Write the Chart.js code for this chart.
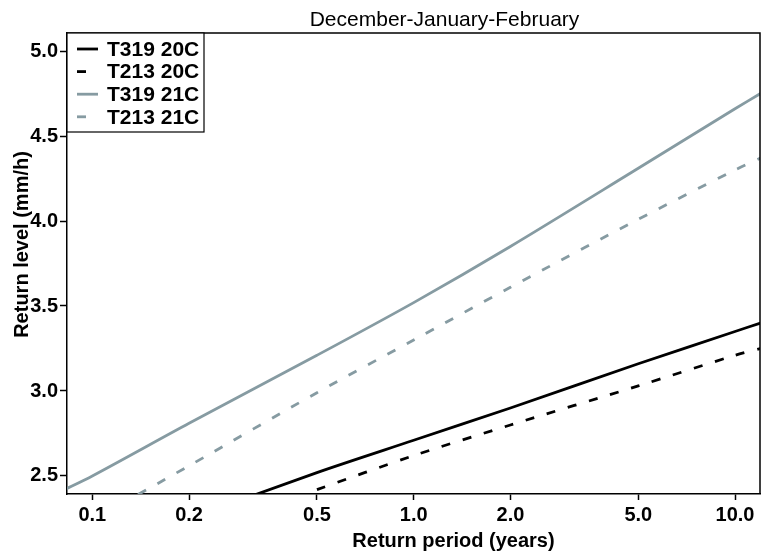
<!DOCTYPE html>
<html>
<head>
<meta charset="utf-8">
<script src="https://cdn.jsdelivr.net/npm/chart.js@4/dist/chart.umd.min.js"></script>
<style>
  html, body { margin: 0; padding: 0; background: #fff; }
  #wrap { width: 761px; height: 553px; }
</style>
</head>
<body>
<div id="wrap"><canvas id="rl-chart" width="761" height="553"></canvas></div>
<script>
const FONT = '"Liberation Sans", Arial, Helvetica, sans-serif';
const GREY = "#869ba2";

// return period (years) and return level (mm/h)
const returnPeriods = [0.08, 0.1, 0.2, 0.5, 1, 2, 5, 10, 12];
const t319_20c = [1.99, 2.06, 2.25, 2.52, 2.71, 2.90, 3.16, 3.35, 3.40];
const t213_20c = [null, null, null, 2.42, 2.62, 2.80, 3.03, 3.21, 3.25];
const t319_21c = [2.41, 2.50, 2.81, 3.21, 3.52, 3.85, 4.31, 4.66, 4.75];
const t213_21c = [2.14, 2.24, 2.56, 2.99, 3.30, 3.61, 4.01, 4.30, 4.37];

const xTicks = [0.1, 0.2, 0.5, 1, 2, 5, 10];
const xTickLabels = ["0.1", "0.2", "0.5", "1.0", "2.0", "5.0", "10.0"];
const yTicks = [2.5, 3.0, 3.5, 4.0, 4.5, 5.0];

function toPoints(values) {
  return returnPeriods.map((p, i) => ({ x: p, y: values[i] }));
}

// white page + top/right frame of the plot box
const frame = {
  id: "frame",
  beforeDraw(chart) {
    const ctx = chart.ctx;
    ctx.save();
    ctx.fillStyle = "#fff";
    ctx.fillRect(0, 0, chart.width, chart.height);
    ctx.restore();
  },
  afterDraw(chart) {
    const ctx = chart.ctx;
    const a = chart.chartArea;
    ctx.save();
    ctx.strokeStyle = "#000";
    ctx.lineWidth = 1.5;
    ctx.beginPath();
    ctx.moveTo(a.left, a.top);
    ctx.lineTo(a.right, a.top);
    ctx.lineTo(a.right, a.bottom);
    ctx.stroke();
    ctx.restore();
  },
};

// legend box drawn inside the top-left corner, R style
const insideLegend = {
  id: "insideLegend",
  afterDraw(chart) {
    const ctx = chart.ctx;
    const a = chart.chartArea;
    const x0 = a.left, y0 = a.top, w = 137, h = 99;
    ctx.save();
    ctx.fillStyle = "#fff";
    ctx.fillRect(x0, y0, w, h);
    ctx.strokeStyle = "#000";
    ctx.lineWidth = 1.2;
    ctx.strokeRect(x0, y0, w, h);
    chart.data.datasets.forEach((ds, i) => {
      const y = y0 + 16 + i * 22.6;
      ctx.strokeStyle = ds.borderColor;
      ctx.lineWidth = ds.borderWidth;
      ctx.setLineDash(ds.borderDash || []);
      ctx.beginPath();
      ctx.moveTo(x0 + 10, y);
      ctx.lineTo(x0 + 31, y);
      ctx.stroke();
      ctx.setLineDash([]);
      ctx.fillStyle = "#000";
      ctx.font = "bold 21px " + FONT;
      ctx.textBaseline = "middle";
      ctx.textAlign = "left";
      ctx.fillText(ds.label, x0 + 40, y + 1);
    });
    ctx.restore();
  },
};

// title and axis labels (the y label overlaps the tick labels like the original)
const axisTexts = {
  id: "axisTexts",
  afterDraw(chart) {
    const ctx = chart.ctx;
    const a = chart.chartArea;
    const cx = (a.left + a.right) / 2;
    const cy = (a.top + a.bottom) / 2;
    ctx.save();
    ctx.fillStyle = "#000";
    ctx.textAlign = "center";
    ctx.textBaseline = "middle";
    ctx.font = "21px " + FONT;
    ctx.fillText("December-January-February", cx + 31, 20);
    ctx.font = "bold 20px " + FONT;
    ctx.fillText("Return period (years)", cx + 40, 541);
    ctx.translate(22, cy - 19);
    ctx.rotate(-Math.PI / 2);
    ctx.fillText("Return level (mm/h)", 0, 0);
    ctx.restore();
  },
};

const ctx = document.getElementById("rl-chart").getContext("2d");

const rlChart = new Chart(ctx, {
  type: "line",
  data: {
    datasets: [
      {
        label: "T319 20C",
        data: toPoints(t319_20c),
        borderColor: "#000",
        borderWidth: 2.8,
      },
      {
        label: "T213 20C",
        data: toPoints(t213_20c),
        borderColor: "#000",
        borderWidth: 2.8,
        borderDash: [9, 13],
      },
      {
        label: "T319 21C",
        data: toPoints(t319_21c),
        borderColor: GREY,
        borderWidth: 2.8,
      },
      {
        label: "T213 21C",
        data: toPoints(t213_21c),
        borderColor: GREY,
        borderWidth: 2.8,
        borderDash: [9, 13],
      },
    ],
  },
  options: {
    responsive: false,
    animation: false,
    devicePixelRatio: 1,
    layout: { padding: { top: 33, right: 1, left: 0, bottom: 0 } },
    elements: {
      point: { radius: 0 },
      line: { tension: 0.3, fill: false },
    },
    scales: {
      x: {
        type: "logarithmic",
        min: 0.0834,
        max: 11.96,
        afterBuildTicks: (scale) => {
          scale.ticks = xTicks.map((v) => ({ value: v }));
        },
        afterFit: (scale) => {
          scale.height = 59;
        },
        ticks: {
          autoSkip: false,
          maxRotation: 0,
          padding: 3,
          color: "#000",
          font: { family: FONT, size: 20, weight: "bold" },
          callback: (value, index) => xTickLabels[index],
        },
        grid: {
          drawOnChartArea: false,
          drawTicks: true,
          tickLength: 6,
          tickColor: "#000",
          tickWidth: 1.5,
        },
        border: { display: true, color: "#000", width: 1.5 },
      },
      y: {
        type: "linear",
        min: 2.394,
        max: 5.106,
        afterBuildTicks: (scale) => {
          scale.ticks = yTicks.map((v) => ({ value: v }));
        },
        afterFit: (scale) => {
          scale.width = 67;
        },
        ticks: {
          padding: 2,
          color: "#000",
          font: { family: FONT, size: 20, weight: "bold" },
          callback: (value) => Number(value).toFixed(1),
        },
        grid: {
          drawOnChartArea: false,
          drawTicks: true,
          tickLength: 7,
          tickColor: "#000",
          tickWidth: 1.5,
        },
        border: { display: true, color: "#000", width: 1.5 },
      },
    },
    plugins: {
      legend: { display: false },
      title: { display: false },
      tooltip: { enabled: false },
    },
  },
  plugins: [frame, insideLegend, axisTexts],
});
</script>
</body>
</html>
